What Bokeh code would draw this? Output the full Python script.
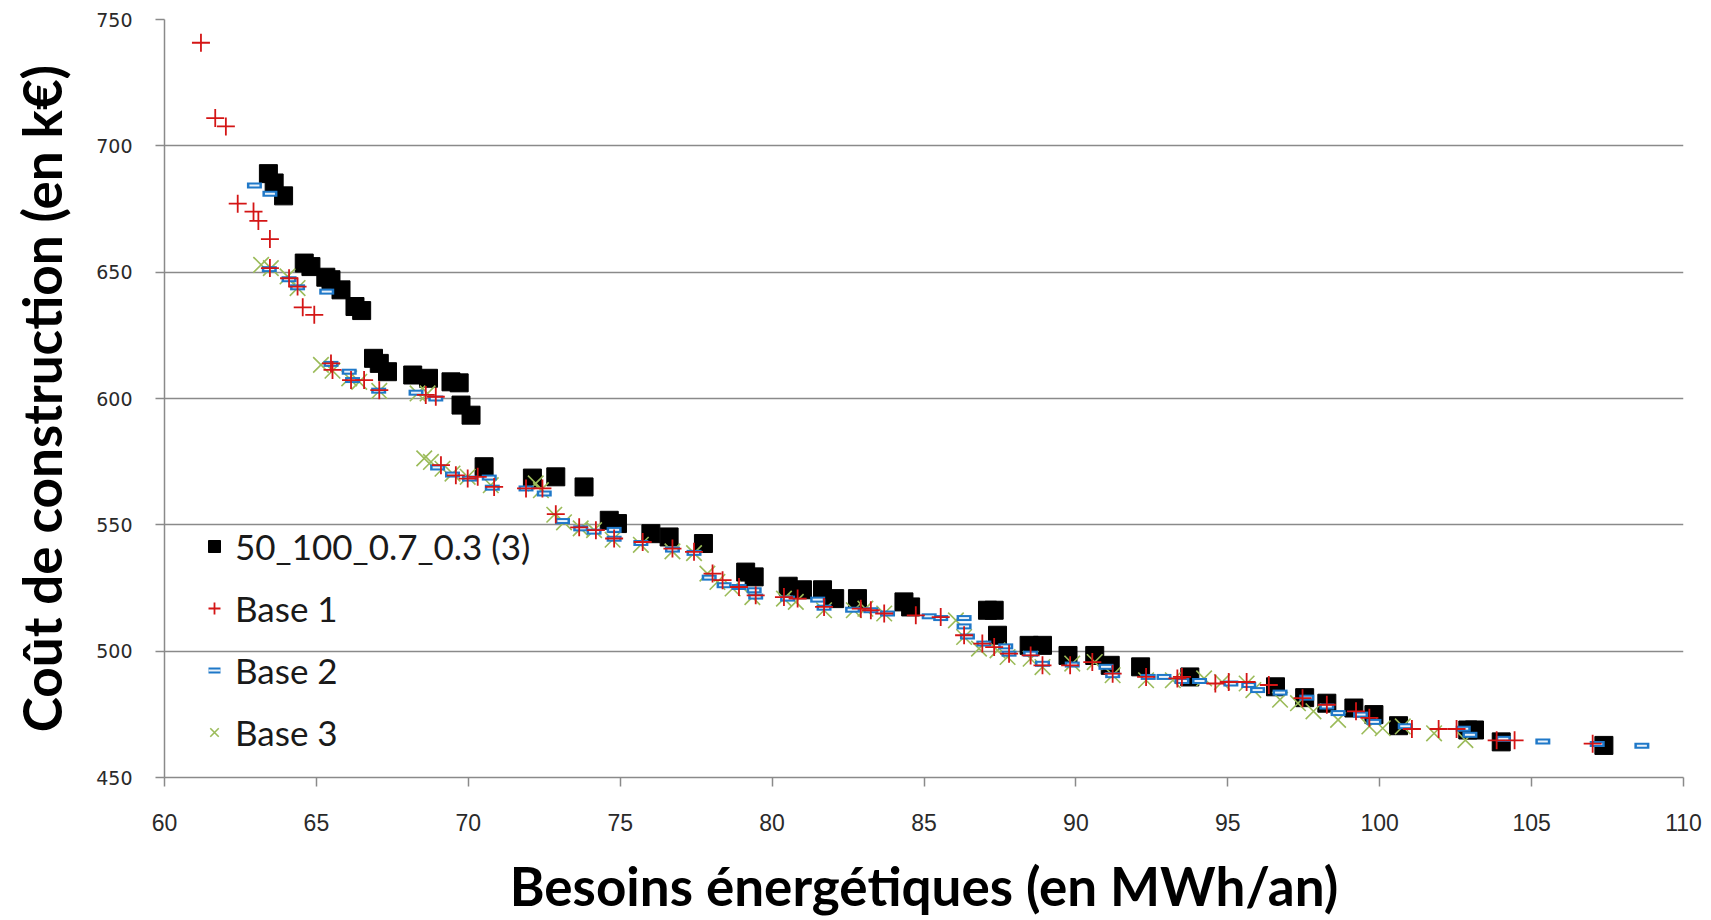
from bokeh.plotting import figure
from bokeh.models import Range1d, FixedTicker, Legend, LegendItem, ColumnDataSource
from bokeh.embed import file_html
from bokeh.resources import INLINE

# ---- data ----
sq_x = [63.42, 63.61, 63.92, 64.60, 64.82, 65.31, 65.48, 65.81, 66.27, 66.49, 66.88, 67.07, 67.34, 68.17, 68.69,
        69.43, 69.70, 69.76, 70.09, 70.52, 72.11, 72.88, 73.81, 74.64, 74.91, 76.01, 76.61, 77.74, 79.13, 79.41,
        80.53, 81.00, 81.66, 82.06, 82.81, 84.34, 84.56, 87.09, 87.31, 87.42, 88.46, 88.90, 89.74, 90.62, 91.13,
        92.13, 93.75, 96.57, 97.53, 98.26, 99.15, 99.81, 100.62, 102.90, 103.12, 104.00, 107.38]
sq_y = [689.0, 685.3, 680.2, 653.6, 652.2, 648.0, 647.0, 643.0, 636.4, 634.8, 615.9, 613.9, 610.6, 609.3, 608.0,
        606.6, 606.2, 597.4, 593.4, 573.0, 568.5, 569.0, 565.0, 551.8, 550.5, 546.5, 545.2, 542.6, 531.3, 529.4,
        525.7, 524.3, 524.3, 520.8, 520.8, 519.5, 517.5, 516.2, 516.2, 506.3, 502.3, 502.3, 498.3, 498.3, 494.4,
        493.8, 489.8, 485.9, 481.6, 479.4, 477.5, 474.9, 470.5, 468.8, 468.8, 464.1, 462.7]

b1_x = [61.20, 61.67, 62.02, 62.41, 62.93, 63.09, 63.47, 63.47, 64.10, 64.38, 64.55, 64.93, 65.48, 65.53, 66.14,
        66.57, 67.07, 68.60, 68.93, 69.10, 69.59, 69.98, 70.31, 70.85, 71.90, 72.44, 72.88, 73.65, 74.20, 74.80,
        75.74, 76.72, 77.43, 78.04, 78.37, 78.91, 79.46, 80.39, 80.84, 81.71, 82.92, 83.25, 83.69, 84.73, 85.55,
        86.32, 86.92, 87.31, 87.80, 88.51, 88.90, 89.81, 90.54, 91.21, 92.31, 93.34, 93.49, 94.59, 95.03, 95.62,
        96.35, 97.46, 98.26, 99.22, 99.66, 101.06, 101.94, 102.53, 103.85, 104.44, 107.01]
b1_y = [740.8, 711.0, 707.7, 677.1, 674.0, 670.3, 663.1, 651.6, 647.6, 644.3, 636.1, 633.1, 613.9, 611.3, 607.3,
        607.3, 603.3, 601.4, 600.7, 573.6, 569.6, 568.3, 569.0, 565.0, 564.4, 564.4, 554.2, 549.0, 547.9, 544.6,
        543.2, 540.6, 539.3, 530.7, 528.1, 525.4, 522.1, 521.4, 520.8, 517.5, 516.8, 516.2, 514.9, 514.2, 513.5,
        506.3, 503.0, 501.6, 499.0, 498.3, 494.4, 494.4, 495.7, 491.1, 489.8, 489.2, 489.8, 487.2, 487.8, 487.8,
        486.6, 481.4, 478.8, 476.2, 473.6, 469.2, 469.2, 469.2, 464.7, 464.7, 463.4]

b2_x = [62.96, 63.47, 63.45, 64.10, 64.38, 65.34, 65.48, 66.08, 66.19, 67.05, 68.28, 68.93, 68.99, 69.48, 70.04,
        70.69, 70.79, 71.90, 72.50, 73.10, 73.70, 74.14, 74.80, 74.80, 75.68, 76.72, 77.43, 77.93, 78.42, 78.91,
        79.41, 79.46, 80.51, 81.50, 81.71, 82.65, 83.25, 83.80, 85.17, 85.55, 86.32, 86.32, 86.43, 86.97, 87.69,
        87.80, 88.51, 88.90, 89.88, 90.99, 91.21, 92.38, 92.90, 93.49, 94.07, 95.10, 95.69, 95.98, 96.72, 97.60,
        98.26, 98.63, 99.37, 99.81, 100.84, 102.75, 102.97, 104.07, 105.37, 107.16, 108.63]
b2_y = [684.3, 681.0, 651.2, 647.2, 644.0, 642.3, 613.7, 610.6, 607.3, 603.1, 602.3, 600.0, 572.7, 569.9, 568.3,
        568.7, 564.7, 564.4, 562.4, 551.5, 548.6, 547.3, 548.0, 544.5, 542.8, 540.2, 538.9, 529.1, 526.1, 525.4,
        524.1, 521.6, 520.8, 520.4, 517.2, 516.4, 516.2, 514.9, 513.8, 513.1, 513.1, 509.8, 505.8, 503.0, 501.9,
        499.0, 499.0, 495.0, 494.7, 493.8, 490.5, 489.8, 489.8, 488.2, 488.2, 487.2, 486.6, 484.6, 483.6, 481.6,
        478.1, 475.5, 474.9, 472.0, 470.3, 469.3, 466.9, 465.3, 464.2, 463.3, 462.6]

b3_x = [63.18, 63.50, 64.05, 64.38, 65.15, 65.53, 66.08, 66.41, 67.07, 68.33, 68.66, 68.55, 68.77, 69.15, 69.48,
        69.98, 70.74, 72.22, 72.39, 72.83, 73.15, 73.70, 74.14, 74.75, 75.68, 76.72, 77.43, 77.87, 78.20, 78.70,
        79.35, 80.39, 80.78, 81.71, 82.69, 83.07, 83.69, 86.05, 86.32, 86.81, 87.42, 87.75, 88.51, 88.90, 89.88,
        90.62, 91.21, 92.31, 93.19, 94.22, 94.81, 95.62, 95.84, 96.72, 97.31, 97.82, 98.63, 99.66, 100.10, 100.76,
        101.79, 102.82]
b3_y = [652.9, 651.6, 648.3, 643.7, 613.3, 611.0, 608.0, 606.6, 603.0, 602.0, 602.0, 576.3, 574.9, 572.2, 570.3,
        569.0, 565.7, 566.4, 563.7, 554.0, 551.0, 548.6, 547.9, 544.1, 542.1, 539.5, 538.8, 530.7, 527.4, 524.8,
        521.4, 520.8, 519.5, 516.2, 516.2, 516.8, 514.9, 512.2, 505.6, 501.0, 500.3, 497.7, 497.0, 493.7, 495.1,
        495.7, 490.5, 488.5, 488.5, 489.2, 487.8, 487.2, 484.6, 480.8, 479.4, 476.2, 472.8, 470.2, 469.5, 470.2,
        467.5, 464.8]

x_ticks = [60, 65, 70, 75, 80, 85, 90, 95, 100, 105, 110]
y_ticks = [450, 500, 550, 600, 650, 700, 750]
series_names = ["50_100_0.7_0.3 (3)", "Base 1", "Base 2", "Base 3"]
x_title = "Besoins énergétiques (en MWh/an)"
y_title = "Coût de construction (en k€)"

# ---- figure ----
p = figure(width=1703, height=920, output_backend="svg", toolbar_location=None,
           x_range=Range1d(60, 110), y_range=Range1d(450, 750),
           min_border_left=164, min_border_right=20, min_border_top=19, min_border_bottom=143)
p.outline_line_color = None
p.background_fill_color = "white"
p.border_fill_color = "white"

grid_col = "#8a8a8a"
p.xgrid.grid_line_color = None
p.ygrid.grid_line_color = grid_col
p.ygrid.grid_line_width = 1.5
p.ygrid.ticker = FixedTicker(ticks=y_ticks)

for ax in (p.xaxis[0], p.yaxis[0]):
    ax.axis_line_color = grid_col
    ax.axis_line_width = 1.5
    ax.major_tick_line_color = grid_col
    ax.major_tick_line_width = 1.5
    ax.major_tick_in = 0
    ax.major_tick_out = 9
    ax.minor_tick_line_color = None

p.xaxis.ticker = FixedTicker(ticks=x_ticks)
p.yaxis.ticker = FixedTicker(ticks=y_ticks)

p.yaxis.major_label_text_font = "DejaVu Sans"
p.yaxis.major_label_text_font_size = "19px"
p.yaxis.major_label_text_color = "#2a2a2a"
p.yaxis.major_label_standoff = 23

p.xaxis.major_label_text_font = "Liberation Sans Narrow, Liberation Sans"
p.xaxis.major_label_text_font_size = "23px"
p.xaxis.major_label_text_color = "#2a2a2a"
p.xaxis.major_label_standoff = 27

p.xaxis.axis_label = x_title
p.yaxis.axis_label = y_title
for ax in (p.xaxis[0], p.yaxis[0]):
    ax.axis_label_text_font = "Lato"
    ax.axis_label_text_font_style = "bold"
    ax.axis_label_text_font_size = "53px"
    ax.axis_label_text_color = "black"
p.xaxis.axis_label_standoff = 20
p.yaxis.axis_label_standoff = 20

# ---- marks ----
src_sq = ColumnDataSource(dict(x=sq_x, y=sq_y))
src_b1 = ColumnDataSource(dict(x=b1_x, y=b1_y))
src_b2 = ColumnDataSource(dict(x=b2_x, y=b2_y))
src_b3 = ColumnDataSource(dict(x=b3_x, y=b3_y))

r_sq = p.scatter("x", "y", source=src_sq, marker="square", size=18, fill_color="black", line_color="black")
r_b3 = p.scatter("x", "y", source=src_b3, marker="x", size=22, line_color="#9BBB59", line_width=1.6)
r_b2a = p.scatter("x", "y", source=src_b2, marker="dash", size=15, line_color="#1F78C8", line_width=6)
r_b2b = p.scatter("x", "y", source=src_b2, marker="dash", size=10, line_color="#EAF2FA", line_width=2)
r_b1 = p.scatter("x", "y", source=src_b1, marker="cross", size=18, line_color="#D41515", line_width=1.8)

legend = Legend(items=[
    LegendItem(label=series_names[0], renderers=[r_sq]),
    LegendItem(label=series_names[1], renderers=[r_b1]),
    LegendItem(label=series_names[2], renderers=[r_b2a, r_b2b]),
    LegendItem(label=series_names[3], renderers=[r_b3]),
], location=(35, 24))
legend.background_fill_alpha = 0
legend.border_line_alpha = 0
legend.padding = 0
legend.margin = 0
legend.spacing = 20
legend.glyph_width = 30
legend.glyph_height = 30
legend.label_height = 30
legend.label_standoff = 6
legend.label_text_font = "Lato"
legend.label_text_font_size = "35px"
legend.label_text_color = "#1a1a1a"
legend.label_text_baseline = "middle"
p.add_layout(legend)

open("out.html", "w").write(file_html(p, INLINE))
